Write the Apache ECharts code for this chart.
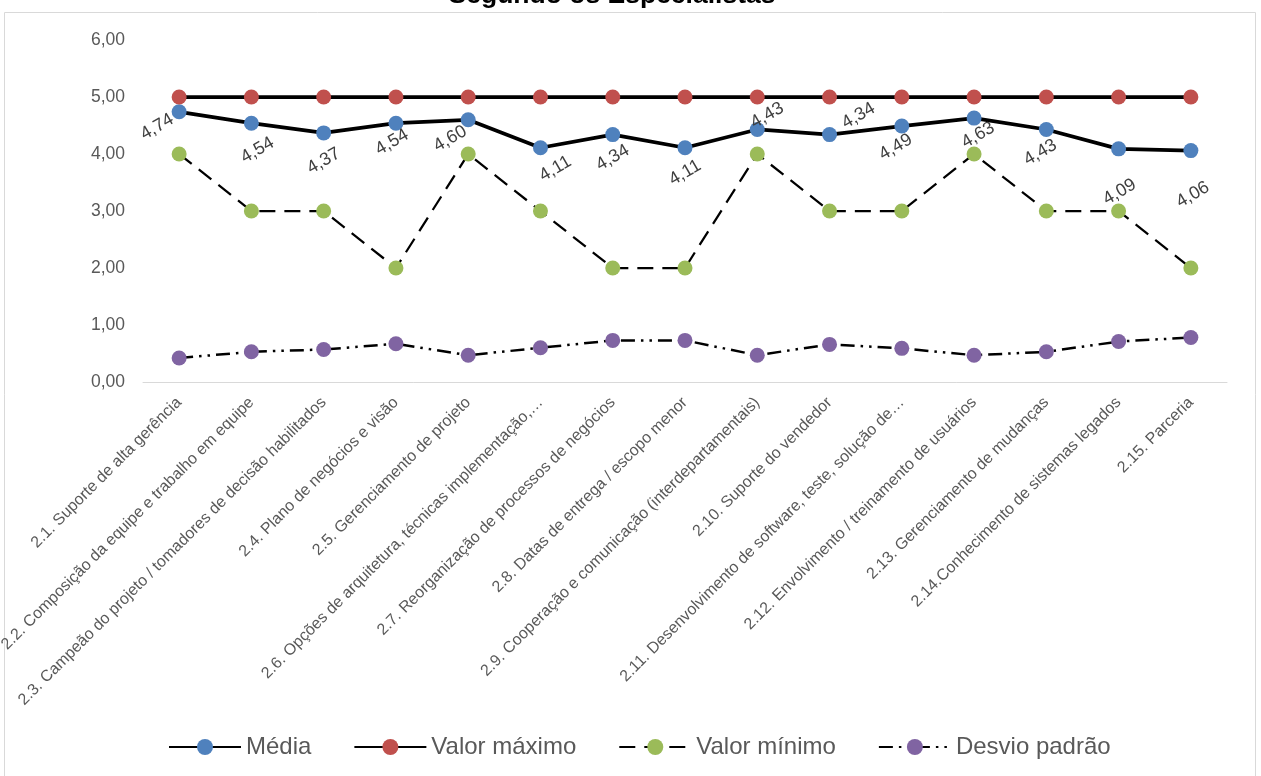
<!DOCTYPE html>
<html>
<head>
<meta charset="utf-8">
<script src="https://cdn.jsdelivr.net/npm/echarts@6/dist/echarts.min.js"></script>
<style>
  html, body { margin: 0; padding: 0; background: #ffffff; }
  #chart { width: 1261px; height: 776px; }
</style>
</head>
<body>
<div id="chart"></div>
<script>
// Fatores críticos de sucesso – estatísticas das avaliações
const categories = [
  '2.1. Suporte de alta gerência',
  '2.2. Composição da equipe e trabalho em equipe',
  '2.3. Campeão do projeto / tomadores de decisão habilitados',
  '2.4. Plano de negócios e visão',
  '2.5. Gerenciamento de projeto',
  '2.6. Opções de arquitetura, técnicas implementação,…',
  '2.7. Reorganização de processos de negócios',
  '2.8. Datas de entrega / escopo menor',
  '2.9. Cooperação e comunicação (interdepartamentais)',
  '2.10. Suporte do vendedor',
  '2.11. Desenvolvimento de software, teste, solução de…',
  '2.12. Envolvimento / treinamento de usuários',
  '2.13. Gerenciamento de mudanças',
  '2.14.Conhecimento de sistemas legados',
  '2.15. Parceria'
];
const media  = [4.74, 4.54, 4.37, 4.54, 4.60, 4.11, 4.34, 4.11, 4.43, 4.34, 4.49, 4.63, 4.43, 4.09, 4.06];
const maximo = [5, 5, 5, 5, 5, 5, 5, 5, 5, 5, 5, 5, 5, 5, 5];
const minimo = [4, 3, 3, 2, 4, 3, 2, 2, 4, 3, 3, 4, 3, 3, 2];
const desvio = [0.42, 0.53, 0.57, 0.67, 0.47, 0.60, 0.73, 0.73, 0.47, 0.66, 0.59, 0.47, 0.53, 0.71, 0.78];
const seriesNames = ['Média', 'Valor máximo', 'Valor mínimo', 'Desvio padrão'];

// Deslocamento de cada rótulo da média em relação ao ponto (pixels de tela)
const labelShift = [
  [-22, 15], [6, 27], [0, 28], [-4, 19], [-18, 19], [15, 21], [0, 23], [0, 25],
  [10, -14], [29, -19], [-6, 21], [4, 17], [-6, 23], [1, 43], [2, 44]
];
const LABEL_ROT = 30;

const FONT = '"Liberation Sans", Arial, sans-serif';
const fmt = v => Number(v).toFixed(2).replace('.', ',');

// o deslocamento do rótulo gira junto com o texto; converte para o referencial girado
function rotatedOffset(dx, dy) {
  const t = LABEL_ROT * Math.PI / 180;
  const c = Math.cos(t), s = Math.sin(t);
  return [dx * c - dy * s, dx * s + dy * c];
}

const mediaData = media.map((v, i) => ({
  value: v,
  label: { offset: rotatedOffset(labelShift[i][0], labelShift[i][1]) }
}));

const chart = echarts.init(document.getElementById('chart'), null, { renderer: 'canvas' });

const baseSeries = (name, data, color, lineStyle) => ({
  name: name,
  type: 'line',
  data: data,
  symbol: 'circle',
  symbolSize: 15,
  itemStyle: { color: color },
  lineStyle: Object.assign({ color: '#000000' }, lineStyle),
  emphasis: { disabled: true },
  animation: false
});

chart.setOption({
  animation: false,
  textStyle: { fontFamily: FONT },
  graphic: [
    {
      type: 'rect',
      shape: { x: 4.5, y: 12.5, width: 1251, height: 800 },
      style: { fill: 'none', stroke: '#d9d9d9', lineWidth: 1 },
      z: -1
    },
    {
      type: 'text',
      x: 612, y: -4,
      style: {
        text: 'Segundo os Especialistas',
        font: 'bold 26.5px ' + FONT,
        fill: '#000000',
        align: 'center',
        verticalAlign: 'middle'
      }
    }
  ],
  grid: {
    left: 143, right: 34, top: 40, bottom: 394,
    containLabel: false,
    outerBoundsMode: 'none'
  },
  legend: {
    data: seriesNames,
    left: 163,
    top: 730,
    itemWidth: 72,
    itemHeight: 20,
    itemGap: 42,
    textStyle: { fontSize: 24, color: '#595959', fontFamily: FONT },
    selectedMode: false
  },
  xAxis: {
    type: 'category',
    data: categories,
    boundaryGap: true,
    axisLine: { lineStyle: { color: '#d9d9d9', width: 1 } },
    axisTick: { show: false },
    axisLabel: {
      interval: 0,
      rotate: 45,
      margin: 18,
      fontSize: 16,
      color: '#595959',
      fontFamily: FONT
    },
    splitLine: { show: false }
  },
  yAxis: {
    type: 'value',
    min: 0,
    max: 6,
    interval: 1,
    axisLine: { show: false },
    axisTick: { show: false },
    splitLine: { show: false },
    axisLabel: {
      formatter: fmt,
      fontSize: 17.5,
      color: '#595959',
      margin: 18,
      fontFamily: FONT
    }
  },
  series: [
    Object.assign(baseSeries(seriesNames[0], mediaData, '#4f81bd', { width: 3.75, type: 'solid' }), {
      label: {
        show: true,
        position: 'inside',
        rotate: LABEL_ROT,
        formatter: p => fmt(p.value),
        fontSize: 18,
        color: '#404040',
        fontFamily: FONT,
        align: 'center',
        verticalAlign: 'middle'
      },
      z: 3
    }),
    Object.assign(baseSeries(seriesNames[1], maximo, '#c0504d', { width: 3.75, type: 'solid' }), { z: 4 }),
    Object.assign(baseSeries(seriesNames[2], minimo, '#9bbb59', { width: 2.25, type: [16, 9] }), { z: 2 }),
    Object.assign(baseSeries(seriesNames[3], desvio, '#8064a2', { width: 2.5, type: [14, 6, 2.5, 6, 2.5, 6] }), { z: 2 })
  ]
});
</script>
</body>
</html>
